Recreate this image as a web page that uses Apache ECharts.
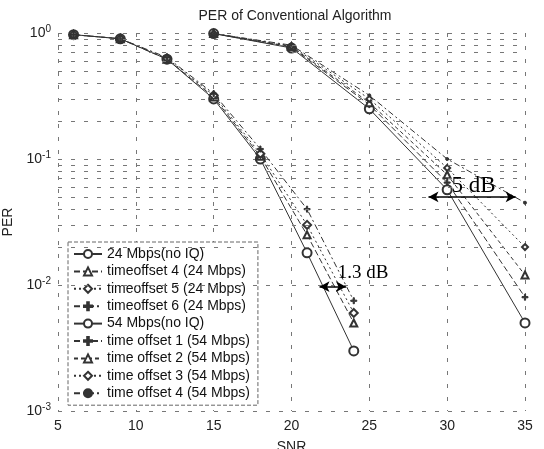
<!DOCTYPE html>
<html>
<head>
<meta charset="utf-8">
<script src="https://cdn.jsdelivr.net/npm/echarts@6/dist/echarts.min.js"></script>
<style>html,body{margin:0;padding:0;background:#fff}#c{width:544px;height:449px}</style>
</head>
<body>
<div id="c"></div>
<script>
// ---- data ----
const snr24 = [6, 9, 12, 15, 18, 21, 24];
const per24NoIQ = [0.97, 0.9, 0.62, 0.30, 0.100, 0.018, 0.003];
const per24To4  = [0.97, 0.9, 0.62, 0.31, 0.105, 0.025, 0.005];
const per24To5  = [0.97, 0.9, 0.63, 0.32, 0.110, 0.030, 0.006];
const per24To6  = [0.97, 0.9, 0.64, 0.33, 0.120, 0.040, 0.0075];

const snr54 = [15, 20, 25, 30, 35];
const per54NoIQ = [0.99, 0.76, 0.25, 0.057, 0.005];
const per54To1  = [0.99, 0.77, 0.27, 0.065, 0.008];
const per54To2  = [0.99, 0.78, 0.28, 0.075, 0.012];
const per54To3  = [0.99, 0.79, 0.30, 0.085, 0.020];
const per54To4  = [0.99, 0.80, 0.32, 0.100, 0.045];

const seriesNames = [
  '24 Mbps(no IQ)', 'timeoffset 4 (24 Mbps)', 'timeoffset 5 (24 Mbps)', 'timeoffset 6 (24 Mbps)',
  '54 Mbps(no IQ)', 'time offset 1 (54 Mbps)', 'time offset 2 (54 Mbps)', 'time offset 3 (54 Mbps)', 'time offset 4 (54 Mbps)'
];
const minorTicks = [0.002,0.003,0.004,0.005,0.006,0.007,0.008,0.009,
                    0.02,0.03,0.04,0.05,0.06,0.07,0.08,0.09,
                    0.2,0.3,0.4,0.5,0.6,0.7,0.8,0.9];
// annotations (data coordinates)
const arrow5dB = [[28.8, 0.05], [34.4, 0.05]];
const arrow13dB = [[21.8, 0.0097], [23.5, 0.0097]];
const label5dB = [31.7, 0.061];
const label13dB = [24.6, 0.0125];

// ---- styles ----
const plusPath = 'path://M4,0H6V4H10V6H6V10H4V6H0V4H4Z';
const ink = '#333';
const styles = [
  {symbol: 'emptyCircle', size: 9, type: 'solid'},
  {symbol: 'emptyTriangle', size: 7, type: [6, 3]},
  {symbol: 'emptyDiamond', size: 8, type: [2, 3]},
  {symbol: plusPath, size: 6, type: [6, 3, 2, 3]},
  {symbol: 'emptyCircle', size: 9, type: 'solid'},
  {symbol: plusPath, size: 6, type: [6, 3]},
  {symbol: 'emptyTriangle', size: 7, type: [4, 3]},
  {symbol: 'emptyDiamond', size: 6, type: [2, 3]},
  {symbol: 'circle', size: 3, type: [6, 3, 2, 3]}
];
const xs = [snr24, snr24, snr24, snr24, snr54, snr54, snr54, snr54, snr54];
const ys = [per24NoIQ, per24To4, per24To5, per24To6, per54NoIQ, per54To1, per54To2, per54To3, per54To4];

const series = seriesNames.map((n, i) => ({
  name: n,
  type: 'line',
  data: xs[i].map((x, j) => [x, ys[i][j]]),
  symbol: styles[i].symbol,
  symbolSize: styles[i].size,
  showAllSymbol: true,
  lineStyle: {color: ink, width: 1, type: styles[i].type},
  itemStyle: {color: ink, borderColor: ink, borderWidth: 1},
  z: 3
}));

const gridStyle = {color: '#777', width: 1, type: [4, 9]};
// minor grid lines + annotations
series.push({
  type: 'line', data: [], silent: true, z: 1,
  markLine: {
    silent: true, symbol: 'none', animation: false,
    label: {show: false},
    lineStyle: gridStyle,
    data: minorTicks.map(v => ({yAxis: v}))
  }
});
series.push({
  type: 'line', data: [], silent: true, z: 5,
  markLine: {
    silent: true, symbol: ['arrow', 'arrow'], symbolSize: [8, 10], animation: false,
    label: {show: false},
    lineStyle: {color: '#000', width: 1.5, type: 'solid'},
    data: [
      [{coord: arrow5dB[0]}, {coord: arrow5dB[1]}],
      [{coord: arrow13dB[0]}, {coord: arrow13dB[1]}]
    ]
  },
  markPoint: {
    silent: true, animation: false, symbol: 'circle', symbolSize: 1,
    itemStyle: {color: 'rgba(0,0,0,0)'},
    label: {show: true, position: 'inside', color: '#000', fontFamily: 'Liberation Serif'},
    data: [
      {coord: label5dB, value: '5 dB', label: {fontSize: 23, formatter: '5 dB'}},
      {coord: label13dB, value: '1.3 dB', label: {fontSize: 19, formatter: '1.3 dB'}}
    ]
  }
});

const font = 'Liberation Sans';
const chart = echarts.init(document.getElementById('c'), null, {renderer: 'canvas'});
chart.setOption({
  animation: false,
  backgroundColor: '#fff',
  title: {
    text: 'PER of Conventional Algorithm', left: 290, textAlign: 'center', top: 4,
    textStyle: {fontSize: 14, fontWeight: 'normal', color: '#222', fontFamily: font}
  },
  grid: {left: 58, right: 19, top: 33, bottom: 38, containLabel: false, outerBoundsMode: 'none'},
  legend: {
    orient: 'vertical', left: 68, top: 242,
    data: seriesNames,
    backgroundColor: '#fff', borderColor: '#666', borderWidth: 1, borderType: 'dashed',
    padding: [5, 8, 5, 5], itemGap: 3.4, itemWidth: 28, itemHeight: 10,
    textStyle: {fontSize: 14, color: '#111', fontFamily: font, lineHeight: 14}
  },
  xAxis: {
    type: 'value', min: 5, max: 35, interval: 5,
    name: 'SNR', nameLocation: 'middle', nameGap: 29,
    nameTextStyle: {fontSize: 14, color: '#222', fontFamily: font},
    axisLine: {show: false}, axisTick: {show: false},
    axisLabel: {fontSize: 14, color: '#222', fontFamily: font, margin: 8},
    splitLine: {show: true, lineStyle: gridStyle}
  },
  yAxis: {
    type: 'log', logBase: 10, min: 0.001, max: 1,
    name: 'PER', nameLocation: 'middle', nameGap: 42,
    nameTextStyle: {fontSize: 14, color: '#222', fontFamily: font},
    axisLine: {show: false}, axisTick: {show: false},
    axisLabel: {
      margin: 7,
      formatter: v => '{b|10}{s|' + Math.round(Math.log10(v)) + '}',
      rich: {
        b: {fontSize: 14, color: '#222', fontFamily: font, lineHeight: 18},
        s: {fontSize: 10, color: '#222', fontFamily: font, verticalAlign: 'top', lineHeight: 18}
      }
    },
    splitLine: {show: true, lineStyle: gridStyle}
  },
  series: series
});
</script>
</body>
</html>
